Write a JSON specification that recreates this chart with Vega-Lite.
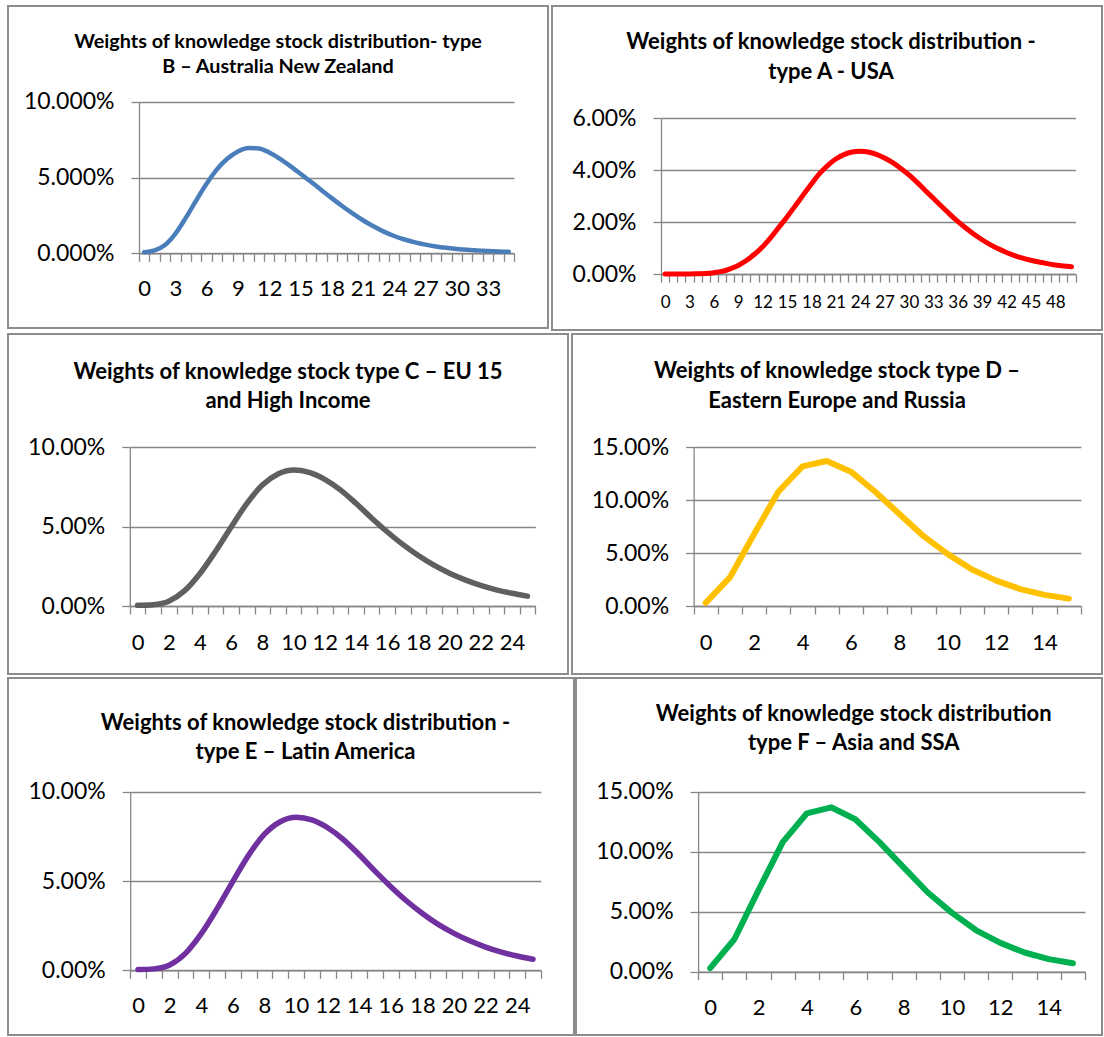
{
  "$schema": "https://vega.github.io/schema/vega-lite/v6.json",
  "padding": {"left": 7, "top": 5, "right": 0, "bottom": 0},
  "background": "white",
  "config": {
    "font": "Lato",
    "view": {"stroke": "#8c8c8c", "strokeWidth": 2},
    "axis": {
      "labelFont": "Lato", "labelColor": "#000000", "labelFontSize": 23,
      "domainColor": "#868686", "tickColor": "#868686", "gridColor": "#868686",
      "domainWidth": 1.3, "tickWidth": 1.3, "gridWidth": 1.3, "tickSize": 8, "title": null
    },
    "title": {"font": "Lato", "fontWeight": "bold", "color": "#000000", "anchor": "middle", "frame": "group"}
  },
  "spacing": 2,
  "vconcat": [
    {
      "bounds": "flush",
      "spacing": 4,
      "hconcat": [
        {
          "width": 540, "height": 322,
          "title": {"text": ["Weights of knowledge stock distribution- type", "B – Australia New Zealand"], "fontSize": 19.8, "lineHeight": 25.3, "offset": -71},
          "data": {"values": [
            {"t":0,"w":0.0007},{"t":1,"w":0.002},{"t":2,"w":0.0055},{"t":3,"w":0.013},{"t":4,"w":0.0235},{"t":5,"w":0.035},
            {"t":6,"w":0.046},{"t":7,"w":0.0555},{"t":8,"w":0.0625},{"t":9,"w":0.0672},{"t":10,"w":0.0695},{"t":11,"w":0.0692},
            {"t":12,"w":0.0665},{"t":13,"w":0.0625},{"t":14,"w":0.0577},{"t":15,"w":0.0525},{"t":16,"w":0.0472},{"t":17,"w":0.0418},
            {"t":18,"w":0.0364},{"t":19,"w":0.0312},{"t":20,"w":0.0263},{"t":21,"w":0.0218},{"t":22,"w":0.0178},{"t":23,"w":0.0143},
            {"t":24,"w":0.0114},{"t":25,"w":0.0091},{"t":26,"w":0.0072},{"t":27,"w":0.0057},{"t":28,"w":0.0045},{"t":29,"w":0.0036},
            {"t":30,"w":0.0029},{"t":31,"w":0.0023},{"t":32,"w":0.0019},{"t":33,"w":0.0015},{"t":34,"w":0.0012},{"t":35,"w":0.001}
          ]},
          "mark": {"type": "line", "color": "#4a7ebb", "strokeWidth": 4.5, "interpolate": "monotone", "strokeCap": "round", "strokeJoin": "round"},
          "encoding": {
            "x": {"field": "t", "type": "ordinal", "bandPosition": 0.5,
              "scale": {"type": "band", "paddingInner": 0, "paddingOuter": 0, "range": [131, 506]},
              "axis": {"offset": -74.7, "tickBand": "extent", "labelAngle": 0, "labelOverlap": false, "labelPadding": 17, "labelFontSize": 22,
                "labelExpr": "datum.value % 3 == 0 ? datum.label : ''"}},
            "y": {"field": "w", "type": "quantitative",
              "scale": {"domain": [0, 0.1], "range": [247.3, 95.7], "nice": false},
              "axis": {"offset": -131, "values": [0, 0.05, 0.1], "format": ".3%", "grid": true, "labelPadding": 17}}
          }
        },
        {
          "width": 550, "height": 324,
          "title": {"text": ["Weights of knowledge stock distribution -", "type A - USA"], "fontSize": 22, "lineHeight": 30, "offset": -78, "dx": 4},
          "data": {"values": [
            {"t":0,"w":0.0},{"t":1,"w":0.0},{"t":2,"w":0.0},{"t":3,"w":0.0},{"t":4,"w":0.0001},{"t":5,"w":0.0002},
            {"t":6,"w":0.0005},{"t":7,"w":0.001},{"t":8,"w":0.002},{"t":9,"w":0.0033},{"t":10,"w":0.0052},{"t":11,"w":0.0076},
            {"t":12,"w":0.0105},{"t":13,"w":0.014},{"t":14,"w":0.018},{"t":15,"w":0.022},{"t":16,"w":0.0262},{"t":17,"w":0.0305},
            {"t":18,"w":0.0347},{"t":19,"w":0.0387},{"t":20,"w":0.0418},{"t":21,"w":0.0443},{"t":22,"w":0.046},{"t":23,"w":0.047},
            {"t":24,"w":0.0473},{"t":25,"w":0.047},{"t":26,"w":0.0461},{"t":27,"w":0.0447},{"t":28,"w":0.0429},{"t":29,"w":0.0407},
            {"t":30,"w":0.0382},{"t":31,"w":0.0353},{"t":32,"w":0.0322},{"t":33,"w":0.0292},{"t":34,"w":0.0261},{"t":35,"w":0.0231},
            {"t":36,"w":0.0203},{"t":37,"w":0.0177},{"t":38,"w":0.0153},{"t":39,"w":0.0132},{"t":40,"w":0.0113},{"t":41,"w":0.0097},
            {"t":42,"w":0.0083},{"t":43,"w":0.0071},{"t":44,"w":0.0061},{"t":45,"w":0.0053},{"t":46,"w":0.0046},{"t":47,"w":0.004},
            {"t":48,"w":0.0035},{"t":49,"w":0.0031},{"t":50,"w":0.0028}
          ]},
          "mark": {"type": "line", "color": "#ff0000", "strokeWidth": 5, "interpolate": "monotone", "strokeCap": "round", "strokeJoin": "round"},
          "encoding": {
            "x": {"field": "t", "type": "ordinal", "bandPosition": 0.5,
              "scale": {"type": "band", "paddingInner": 0, "paddingOuter": 0, "range": [109, 523.6]},
              "axis": {"offset": -56, "tickBand": "extent", "labelAngle": 0, "labelOverlap": false, "labelPadding": 12, "labelFontSize": 17,
                "labelExpr": "datum.value % 3 == 0 ? datum.label : ''"}},
            "y": {"field": "w", "type": "quantitative",
              "scale": {"domain": [0, 0.06], "range": [268, 112.3], "nice": false},
              "axis": {"offset": -109, "values": [0, 0.02, 0.04, 0.06], "format": ".2%", "grid": true, "labelPadding": 17}}
          }
        }
      ]
    },
    {
      "bounds": "flush",
      "spacing": 4,
      "hconcat": [
        {
          "width": 560, "height": 340,
          "title": {"text": ["Weights of knowledge stock type C – EU 15", "and High Income"], "fontSize": 22, "lineHeight": 29.3, "offset": -79},
          "data": {"values": [
            {"t":0,"w":0.0004},{"t":1,"w":0.0008},{"t":2,"w":0.003},{"t":3,"w":0.0095},{"t":4,"w":0.0205},{"t":5,"w":0.0345},
            {"t":6,"w":0.0498},{"t":7,"w":0.0645},{"t":8,"w":0.0762},{"t":9,"w":0.0832},{"t":10,"w":0.0857},{"t":11,"w":0.0842},
            {"t":12,"w":0.0798},{"t":13,"w":0.0732},{"t":14,"w":0.0647},{"t":15,"w":0.0555},{"t":16,"w":0.0468},{"t":17,"w":0.0388},
            {"t":18,"w":0.0318},{"t":19,"w":0.0257},{"t":20,"w":0.0207},{"t":21,"w":0.0165},{"t":22,"w":0.013},{"t":23,"w":0.0102},
            {"t":24,"w":0.008},{"t":25,"w":0.0062}
          ]},
          "mark": {"type": "line", "color": "#5f5f5f", "strokeWidth": 5.5, "interpolate": "monotone", "strokeCap": "round", "strokeJoin": "round"},
          "encoding": {
            "x": {"field": "t", "type": "ordinal", "bandPosition": 0.5,
              "scale": {"type": "band", "paddingInner": 0, "paddingOuter": 0, "range": [121.8, 527.3]},
              "axis": {"offset": -68, "tickBand": "extent", "labelAngle": 0, "labelOverlap": false, "labelPadding": 18, "labelFontSize": 22,
                "labelExpr": "datum.value % 2 == 0 ? datum.label : ''"}},
            "y": {"field": "w", "type": "quantitative",
              "scale": {"domain": [0, 0.1], "range": [272, 113.3], "nice": false},
              "axis": {"offset": -121.8, "values": [0, 0.05, 0.1], "format": ".2%", "grid": true, "labelPadding": 17}}
          }
        },
        {
          "width": 530, "height": 340,
          "title": {"text": ["Weights of knowledge stock type D –", "Eastern Europe and Russia"], "fontSize": 22, "lineHeight": 30, "offset": -79},
          "data": {"values": [
            {"t":0,"w":0.003},{"t":1,"w":0.027},{"t":2,"w":0.068},{"t":3,"w":0.108},{"t":4,"w":0.132},{"t":5,"w":0.137},
            {"t":6,"w":0.127},{"t":7,"w":0.108},{"t":8,"w":0.087},{"t":9,"w":0.066},{"t":10,"w":0.049},{"t":11,"w":0.0345},
            {"t":12,"w":0.024},{"t":13,"w":0.016},{"t":14,"w":0.0105},{"t":15,"w":0.007}
          ]},
          "mark": {"type": "line", "color": "#ffc000", "strokeWidth": 6, "interpolate": "linear", "strokeCap": "round", "strokeJoin": "round"},
          "encoding": {
            "x": {"field": "t", "type": "ordinal", "bandPosition": 0.5,
              "scale": {"type": "band", "paddingInner": 0, "paddingOuter": 0, "range": [121.6, 508.9]},
              "axis": {"offset": -68, "tickBand": "extent", "labelAngle": 0, "labelOverlap": false, "labelPadding": 18, "labelFontSize": 22,
                "labelExpr": "datum.value % 2 == 0 ? datum.label : ''"}},
            "y": {"field": "w", "type": "quantitative",
              "scale": {"domain": [0, 0.15], "range": [272, 113.3], "nice": false},
              "axis": {"offset": -121.6, "values": [0, 0.05, 0.1, 0.15], "format": ".2%", "grid": true, "labelPadding": 17}}
          }
        }
      ]
    },
    {
      "bounds": "flush",
      "spacing": 2,
      "hconcat": [
        {
          "width": 566, "height": 357,
          "title": {"text": ["Weights of knowledge stock distribution -", "type E – Latin America"], "fontSize": 22, "lineHeight": 29.3, "offset": -86, "dx": 14.5},
          "data": {"values": [
            {"t":0,"w":0.0004},{"t":1,"w":0.0008},{"t":2,"w":0.003},{"t":3,"w":0.0095},{"t":4,"w":0.0205},{"t":5,"w":0.0345},
            {"t":6,"w":0.0498},{"t":7,"w":0.0645},{"t":8,"w":0.0762},{"t":9,"w":0.0832},{"t":10,"w":0.0857},{"t":11,"w":0.0842},
            {"t":12,"w":0.0798},{"t":13,"w":0.0732},{"t":14,"w":0.0647},{"t":15,"w":0.0555},{"t":16,"w":0.0468},{"t":17,"w":0.0388},
            {"t":18,"w":0.0318},{"t":19,"w":0.0257},{"t":20,"w":0.0207},{"t":21,"w":0.0165},{"t":22,"w":0.013},{"t":23,"w":0.0102},
            {"t":24,"w":0.008},{"t":25,"w":0.0062}
          ]},
          "mark": {"type": "line", "color": "#7030a0", "strokeWidth": 5.5, "interpolate": "monotone", "strokeCap": "round", "strokeJoin": "round"},
          "encoding": {
            "x": {"field": "t", "type": "ordinal", "bandPosition": 0.5,
              "scale": {"type": "band", "paddingInner": 0, "paddingOuter": 0, "range": [122.2, 532.9]},
              "axis": {"offset": -64.7, "tickBand": "extent", "labelAngle": 0, "labelOverlap": false, "labelPadding": 17, "labelFontSize": 22,
                "labelExpr": "datum.value % 2 == 0 ? datum.label : ''"}},
            "y": {"field": "w", "type": "quantitative",
              "scale": {"domain": [0, 0.1], "range": [292.3, 113.7], "nice": false},
              "axis": {"offset": -122.2, "values": [0, 0.05, 0.1], "format": ".2%", "grid": true, "labelPadding": 17}}
          }
        },
        {
          "width": 526, "height": 357,
          "title": {"text": ["Weights of knowledge stock distribution", "type  F – Asia and SSA"], "fontSize": 22, "lineHeight": 29.4, "offset": -77, "dx": 14.7},
          "data": {"values": [
            {"t":0,"w":0.003},{"t":1,"w":0.027},{"t":2,"w":0.068},{"t":3,"w":0.108},{"t":4,"w":0.132},{"t":5,"w":0.137},
            {"t":6,"w":0.127},{"t":7,"w":0.108},{"t":8,"w":0.087},{"t":9,"w":0.066},{"t":10,"w":0.049},{"t":11,"w":0.0345},
            {"t":12,"w":0.024},{"t":13,"w":0.016},{"t":14,"w":0.0105},{"t":15,"w":0.007}
          ]},
          "mark": {"type": "line", "color": "#00b050", "strokeWidth": 6, "interpolate": "linear", "strokeCap": "round", "strokeJoin": "round"},
          "encoding": {
            "x": {"field": "t", "type": "ordinal", "bandPosition": 0.5,
              "scale": {"type": "band", "paddingInner": 0, "paddingOuter": 0, "range": [122.1, 509]},
              "axis": {"offset": -63.3, "tickBand": "extent", "labelAngle": 0, "labelOverlap": false, "labelPadding": 17.5, "labelFontSize": 22,
                "labelExpr": "datum.value % 2 == 0 ? datum.label : ''"}},
            "y": {"field": "w", "type": "quantitative",
              "scale": {"domain": [0, 0.15], "range": [293.7, 113.7], "nice": false},
              "axis": {"offset": -122.1, "values": [0, 0.05, 0.1, 0.15], "format": ".2%", "grid": true, "labelPadding": 17}}
          }
        }
      ]
    }
  ]
}
